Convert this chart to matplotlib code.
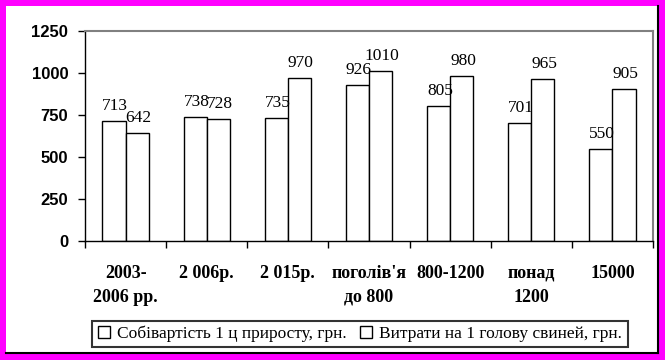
import matplotlib
matplotlib.use('Agg')
import matplotlib.pyplot as plt
import numpy as np
from matplotlib.patches import Rectangle
from matplotlib.lines import Line2D

categories = ['2003-\n2006 рр.', '2 006р.', '2 015р.', "поголів'я\nдо 800", '800-1200', 'понад\n1200', '15000']
cost_per_centner = [713, 738, 735, 926, 805, 701, 550]
cost_per_head = [642, 728, 970, 1010, 980, 965, 905]
series_names = ['Собівартість 1 ц приросту, грн.', 'Витрати на 1 голову свиней, грн.']
y_ticks = [0, 250, 500, 750, 1000, 1250]

serif = 'Liberation Serif'
sans = 'Liberation Sans'

fig = plt.figure(figsize=(6.65, 3.6), dpi=100)
fig.patch.set_facecolor('#ff00ff')

W, H = 665, 360
# white inner panel with black shadow lines at right and bottom
fig.patches.append(Rectangle((6 / W, 7 / H), 651 / W, 347 / H, transform=fig.transFigure,
                             facecolor='white', edgecolor='none', zorder=-2))
fig.lines.append(Line2D([657.5 / W, 657.5 / W], [7 / H, 354 / H], transform=fig.transFigure,
                        color='black', linewidth=1.5, zorder=-1))
fig.lines.append(Line2D([6 / W, 658 / W], [7.5 / H, 7.5 / H], transform=fig.transFigure,
                        color='black', linewidth=1.5, zorder=-1))

ax = fig.add_axes([85 / W, (360 - 241) / H, (653 - 85) / W, (241 - 31) / H])
ax.set_facecolor('white')

x = np.arange(len(categories))
w = 1 / 3.5
b1 = ax.bar(x - w / 2, cost_per_centner, w, facecolor='white', edgecolor='black', linewidth=1)
b2 = ax.bar(x + w / 2, cost_per_head, w, facecolor='white', edgecolor='black', linewidth=1)

for bars, vals in [(b1, cost_per_centner), (b2, cost_per_head)]:
    for rect, v in zip(bars, vals):
        ax.annotate(str(v), (rect.get_x() + rect.get_width() / 2, v), xytext=(1, 5),
                    textcoords='offset points', ha='center', va='bottom',
                    fontsize=12.5, family=serif)

ax.set_xlim(-0.5, len(categories) - 0.5)
ax.set_ylim(0, 1250)
ax.set_yticks(y_ticks)
ax.set_yticklabels([str(t) for t in y_ticks], fontsize=12, fontweight='bold', family=sans)
ax.tick_params(axis='y', direction='out', length=5, width=1, pad=7)

ax.set_xticks(x)
ax.set_xticklabels(categories, fontsize=13, fontweight='bold', family=serif, linespacing=1.55)
ax.tick_params(axis='x', which='major', length=0, pad=17)
ax.set_xticks(np.arange(-0.5, len(categories)), minor=True)
ax.tick_params(axis='x', which='minor', direction='out', length=5, width=1)

for s in ['left', 'bottom']:
    ax.spines[s].set_color('black')
    ax.spines[s].set_linewidth(1)
for s in ['top', 'right']:
    ax.spines[s].set_color('#808080')
    ax.spines[s].set_linewidth(1.5)

leg = fig.legend([b1, b2], series_names, loc='center', bbox_to_anchor=(360 / W, (360 - 334) / H),
                 ncol=2, frameon=True, fancybox=False, prop={'family': serif, 'size': 12.5},
                 handlelength=0.7, handleheight=0.7, handletextpad=0.4, columnspacing=0.8,
                 borderpad=0.3, borderaxespad=0)
leg.get_frame().set_edgecolor('black')
leg.get_frame().set_linewidth(1.5)

plt.savefig('out.png', dpi=100, facecolor=fig.get_facecolor())
